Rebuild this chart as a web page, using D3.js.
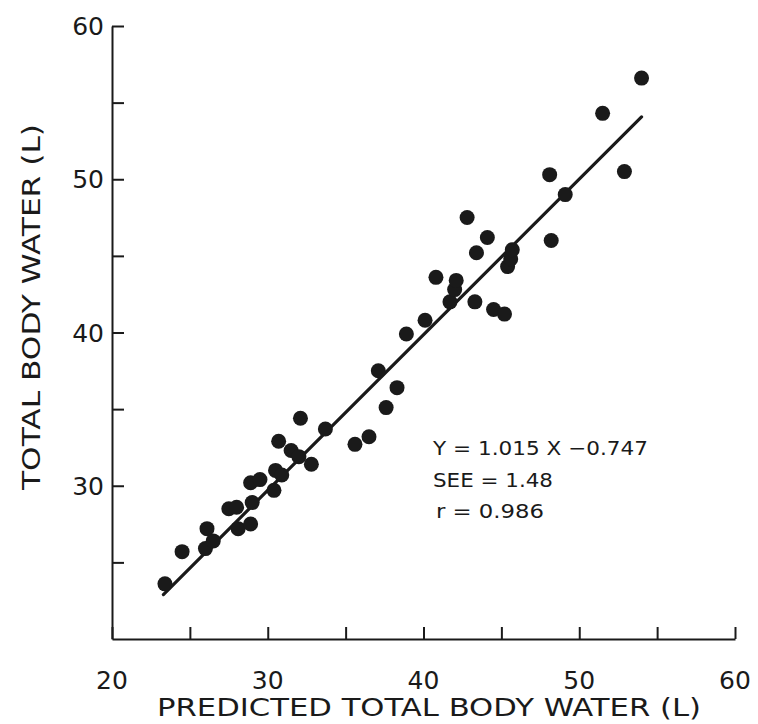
<!DOCTYPE html>
<html>
<head>
<meta charset="utf-8">
<script src="https://cdn.jsdelivr.net/npm/d3@7"></script>
<style>
  html, body { margin: 0; padding: 0; background: #fff; }
  svg { display: block; }
  text { font-family: "DejaVu Sans", sans-serif; fill: #1a1a1a; }
</style>
</head>
<body>
<div id="chart"></div>
<script>
// ---- Data ----
const predicted = [23.4, 24.5, 26.0, 26.1, 26.5, 27.5, 28.0, 28.1, 28.9, 28.9, 29.5, 29.0,
  30.4, 30.5, 30.9, 30.7, 31.5, 32.0, 32.1, 32.8, 33.7, 35.6, 36.5, 37.1, 37.6, 38.3,
  38.9, 40.1, 40.8, 41.7, 42.0, 42.1, 42.8, 43.3, 43.4, 44.1, 44.5, 45.2, 45.4, 45.6,
  45.7, 48.1, 48.2, 49.1, 51.5, 52.9, 54.0];
const measured = [23.6, 25.7, 25.9, 27.2, 26.4, 28.5, 28.6, 27.2, 27.5, 30.2, 30.4, 28.9,
  29.7, 31.0, 30.7, 32.9, 32.3, 31.9, 34.4, 31.4, 33.7, 32.7, 33.2, 37.5, 35.1, 36.4,
  39.9, 40.8, 43.6, 42.0, 42.8, 43.4, 47.5, 42.0, 45.2, 46.2, 41.5, 41.2, 44.3, 44.8,
  45.4, 50.3, 46.0, 49.0, 54.3, 50.5, 56.6];
const slope = 1.015, intercept = -0.747;
const lineRange = [23.3, 54.0];
const xTicks = [20, 25, 30, 35, 40, 45, 50, 55, 60];
const xTickLabels = [20, 30, 40, 50, 60];
const yTicks = [25, 30, 35, 40, 45, 50, 55, 60];
const yTickLabels = [30, 40, 50, 60];
const statsLines = ["Y = 1.015 X \u22120.747", "SEE = 1.48", "r = 0.986"];
const xTitle = "PREDICTED TOTAL BODY WATER (L)";
const yTitle = "TOTAL BODY WATER (L)";

// ---- Layout ----
const W = 758, H = 724;
const svg = d3.select("#chart").append("svg").attr("width", W).attr("height", H);

const x = d3.scaleLinear().domain([20, 60]).range([112, 735]);
const y = d3.scaleLinear().domain([20, 60]).range([639, 26]);
const ink = "#1a1a1a";

// axes (lines + inward ticks)
const xAxis = d3.axisTop(x).tickValues(xTicks).tickSize(12).tickFormat("").tickSizeOuter(0);
svg.append("g").attr("transform", `translate(0,${y(20)})`).call(xAxis)
  .call(g => g.selectAll("path,line").attr("stroke", ink).attr("stroke-width", 2));

const yAxis = d3.axisRight(y).tickValues(yTicks).tickSize(12).tickFormat("").tickSizeOuter(0);
svg.append("g").attr("transform", `translate(${x(20)},0)`).call(yAxis)
  .call(g => g.selectAll("path,line").attr("stroke", ink).attr("stroke-width", 2));

// tick labels
svg.append("g").selectAll("text").data(xTickLabels).join("text")
  .attr("x", d => x(d)).attr("y", 689)
  .attr("text-anchor", "middle").attr("font-size", 25)
  .text(d => d);

svg.append("g").selectAll("text").data(yTickLabels).join("text")
  .attr("x", 104).attr("y", d => y(d) + 9)
  .attr("text-anchor", "end").attr("font-size", 25)
  .text(d => d);

// axis titles
svg.append("text").attr("x", 157).attr("y", 716)
  .attr("font-size", 24).attr("textLength", 544).attr("lengthAdjust", "spacingAndGlyphs")
  .text(xTitle);

svg.append("text")
  .attr("transform", `translate(40,490) rotate(-90)`)
  .attr("font-size", 25).attr("textLength", 366).attr("lengthAdjust", "spacingAndGlyphs")
  .text(yTitle);

// regression line
svg.append("line")
  .attr("x1", x(lineRange[0])).attr("y1", y(slope * lineRange[0] + intercept))
  .attr("x2", x(lineRange[1])).attr("y2", y(slope * lineRange[1] + intercept))
  .attr("stroke", ink).attr("stroke-width", 3.2).attr("stroke-linecap", "round");

// points
svg.append("g").selectAll("circle").data(predicted).join("circle")
  .attr("cx", d => x(d)).attr("cy", (d, i) => y(measured[i]))
  .attr("r", 7.5).attr("fill", ink);

// stats text
const statsBase = [455, 487, 518];
const statsLen = [215, 120, 108];
svg.append("g").selectAll("text").data(statsLines).join("text")
  .attr("x", (d, i) => i === 2 ? 436 : 433).attr("y", (d, i) => statsBase[i])
  .attr("font-size", 20)
  .attr("textLength", (d, i) => statsLen[i]).attr("lengthAdjust", "spacingAndGlyphs")
  .text(d => d);
</script>
</body>
</html>
